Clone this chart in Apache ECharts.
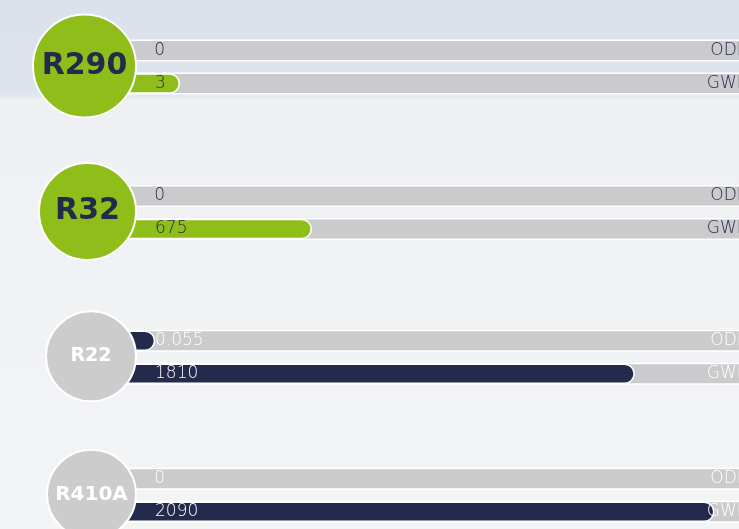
<!DOCTYPE html>
<html>
<head>
<meta charset="utf-8">
<script src="https://cdn.jsdelivr.net/npm/echarts@6/dist/echarts.min.js"></script>
<style>html,body{margin:0;padding:0;}#c{width:739px;height:529px;}</style>
</head>
<body>
<div id="c"></div>
<script>
// ---- data ----
const refrigerants = ['R290', 'R32', 'R22', 'R410A'];
const odpValues = [0, 0, 0.055, 0];
const gwpValues = [3, 675, 1810, 2090];
const rowLabels = ['ODP', 'GWP'];

// ---- styles / layout ----
const groupTops = [34, 179.5, 324.3, 462.3];
const badgeRadius = [52.5, 49.5, 46, 45.5];
const badgeFont = [30, 30, 19, 20];
const GREEN = '#8fbe1a', NAVY = '#232a4b', TRACK = '#cbcbcd', BADGE_GRAY = '#cccccc';
const isGreen = [true, true, false, false];
const ROW_H = 33, GRID_LEFT = 120, GRID_WIDTH = 640;
const axisMax = [1, 2250];

const chart = echarts.init(document.getElementById('c'));
const grids = [], xAxes = [], yAxes = [], series = [], graphics = [];

refrigerants.forEach((name, g) => {
  const fill = isGreen[g] ? GREEN : NAVY;
  const textCol = isGreen[g] ? '#252b4a' : '#ffffff';
  const vals = [odpValues[g], gwpValues[g]];
  rowLabels.forEach((rl, r) => {
    const idx = grids.length;
    grids.push({left: GRID_LEFT, width: GRID_WIDTH, top: groupTops[g] + r * ROW_H, height: ROW_H,
                containLabel: false, outerBoundsMode: 'none'});
    xAxes.push({type: 'value', gridIndex: idx, min: 0, max: axisMax[r], show: false});
    yAxes.push({
      type: 'category', gridIndex: idx, data: [rl], position: 'right', z: 10,
      axisLine: {show: false}, axisTick: {show: false}, splitLine: {show: false},
      axisLabel: {inside: true, margin: 13, color: textCol, fontSize: 17,
                  fontFamily: 'DejaVu Sans', fontWeight: 300}
    });
    series.push({
      type: 'bar', xAxisIndex: idx, yAxisIndex: idx,
      data: [vals[r]], barWidth: 20.5,
      barMinHeight: r === 1 ? 60 : 0,
      itemStyle: {color: fill, borderColor: '#ffffff', borderWidth: 1.5, borderRadius: [0, 11, 11, 0]},
      showBackground: true,
      backgroundStyle: {color: TRACK, borderColor: '#ffffff', borderWidth: 1.5, borderRadius: [0, 11, 11, 0]},
      label: {show: true, position: [35, '50%'], verticalAlign: 'middle', align: 'left',
              color: textCol, fontSize: 17, fontFamily: 'DejaVu Sans', fontWeight: 300,
              formatter: p => String(p.value)},
      animation: false
    });
  });
  const rad = badgeRadius[g];
  graphics.push({
    type: 'circle', z: 100,
    shape: {cx: 137 - rad, cy: groupTops[g] + ROW_H - 1, r: rad - 1},
    style: {fill: isGreen[g] ? GREEN : BADGE_GRAY, stroke: '#ffffff', lineWidth: 2}
  });
  graphics.push({
    type: 'text', z: 101,
    x: 137 - rad, y: groupTops[g] + ROW_H - 1,
    style: {text: name, fill: isGreen[g] ? NAVY : '#ffffff', font: 'bold ' + badgeFont[g] + 'px "DejaVu Sans"',
            textAlign: 'center', textVerticalAlign: 'middle'}
  });
});

chart.setOption({
  animation: false,
  backgroundColor: {
    type: 'linear', x: 0, y: 0, x2: 0, y2: 1,
    colorStops: [
      {offset: 0, color: '#dae1eb'},
      {offset: 0.176, color: '#dee4ed'},
      {offset: 0.19, color: '#eef0f3'},
      {offset: 1, color: '#f3f4f6'}
    ]
  },
  grid: grids, xAxis: xAxes, yAxis: yAxes, series: series,
  graphic: graphics
});
</script>
</body>
</html>
